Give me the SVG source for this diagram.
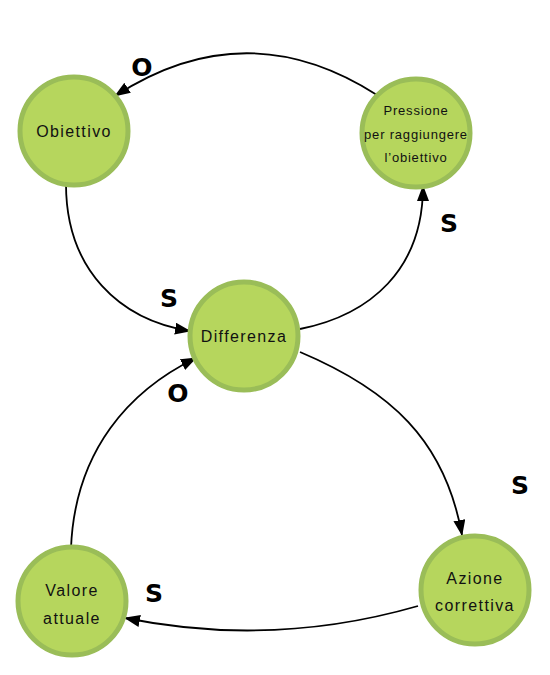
<svg xmlns="http://www.w3.org/2000/svg" width="550" height="675" viewBox="0 0 550 675">
<defs>
<marker id="arrH" markerWidth="16" markerHeight="12" refX="15" refY="6" orient="auto" markerUnits="userSpaceOnUse">
<path d="M0,0 L16,6 L0,12 Z" fill="#000"/>
</marker>
</defs>
<style>
.node circle{fill:#b6d65d;stroke:#9abd58;stroke-width:5}
.node text{font-family:"Liberation Sans","DejaVu Sans",sans-serif;font-size:16px;letter-spacing:1.4px;fill:#111;text-anchor:middle}
.node text.small{font-size:13px;letter-spacing:0.8px}
.edge{fill:none;stroke:#000;stroke-width:1.8;marker-end:url(#arrH)}
.lbl{font-family:"DejaVu Sans","Liberation Sans",sans-serif;font-size:25px;font-weight:bold;fill:#000;text-anchor:middle}
</style>
<rect width="550" height="675" fill="#fff"/>
<g id="connectors">
<path class="edge" d="M377,95 Q246,11 115,96"/>
<path class="edge" d="M66,184 C66,270 120,320 190,331"/>
<path class="edge" d="M300,329 C370,315 423,270 423,186"/>
<path class="edge" d="M300,352 C390,390 445,440 462,535"/>
<path class="edge" d="M418,606 Q272,648 125,618"/>
<path class="edge" d="M71,548 C75,450 130,390 196,358"/>
<text class="lbl" x="142" y="76">O</text>
<text class="lbl" x="169" y="307">S</text>
<text class="lbl" x="449" y="232">S</text>
<text class="lbl" x="520" y="494">S</text>
<text class="lbl" x="154" y="602">S</text>
<text class="lbl" x="178" y="402">O</text>
</g>
<g id="obiettivo" class="node">
<circle cx="74" cy="131" r="54"/>
<text x="74" y="137">Obiettivo</text>
</g>
<g id="pressione" class="node">
<circle cx="416" cy="133" r="54"/>
<text class="small" x="416" y="115">Pressione</text>
<text class="small" x="416" y="139">per raggiungere</text>
<text class="small" x="416" y="162">l’obiettivo</text>
</g>
<g id="differenza" class="node">
<circle cx="244" cy="336" r="54"/>
<text x="244" y="342">Differenza</text>
</g>
<g id="valore" class="node">
<circle cx="72" cy="601" r="54"/>
<text x="72" y="596">Valore</text>
<text x="72" y="624">attuale</text>
</g>
<g id="azione" class="node">
<circle cx="475" cy="590" r="54"/>
<text x="475" y="584">Azione</text>
<text x="475" y="611">correttiva</text>
</g>
</svg>
